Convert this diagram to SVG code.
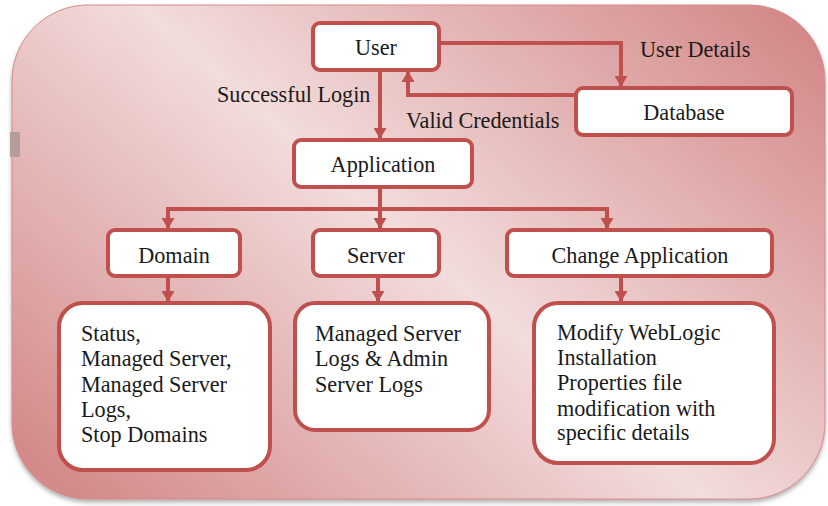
<svg xmlns="http://www.w3.org/2000/svg" width="828" height="506" viewBox="0 0 828 506">
  <defs>
    <linearGradient id="bg" gradientUnits="userSpaceOnUse" x1="150" y1="560" x2="690" y2="-60">
      <stop offset="0" stop-color="#d48a8a"/>
      <stop offset="0.5" stop-color="#f2dcdc"/>
      <stop offset="1" stop-color="#d48a8a"/>
    </linearGradient>
    <filter id="sh" x="-5%" y="-5%" width="110%" height="115%">
      <feDropShadow dx="0" dy="3" stdDeviation="2" flood-color="#555" flood-opacity="0.45"/>
    </filter>
    <marker id="ah" viewBox="0 0 11 13" refX="11" refY="6.5" markerWidth="11" markerHeight="13" markerUnits="userSpaceOnUse" orient="auto">
      <path d="M0,0 L11,6.5 L0,13 z" fill="#c0504d"/>
    </marker>
    <style>
      .box { fill: #ffffff; stroke: #c0504d; stroke-width: 4; }
      .lbl { font-size: 22.2px; fill: #1a1a1a; }
      .mid { text-anchor: middle; }
      .con { fill: none; stroke: #c0504d; stroke-width: 4; }
    </style>
  </defs>

  <rect x="12" y="5" width="813" height="494" rx="76" ry="76" fill="url(#bg)" stroke="#d98a8a" stroke-width="1" filter="url(#sh)"/>
  <rect x="10" y="132" width="10" height="25" fill="#b59d9d"/>

  <g font-family="'Liberation Serif', 'DejaVu Serif', serif">
  <g id="connectors">
    <path class="con" d="M380,70 V139" marker-end="url(#ah)"/>
    <path class="con" d="M576,95 H408 V71" marker-end="url(#ah)"/>
    <path class="con" d="M439,43 H621 V87" marker-end="url(#ah)"/>
    <path class="con" d="M380,187 V209"/>
    <path class="con" d="M168,209 H607"/>
    <path class="con" d="M168,207 V229" marker-end="url(#ah)"/>
    <path class="con" d="M380,209 V229" marker-end="url(#ah)"/>
    <path class="con" d="M607,207 V229" marker-end="url(#ah)"/>
    <path class="con" d="M168,276 V302" marker-end="url(#ah)"/>
    <path class="con" d="M378,276 V302" marker-end="url(#ah)"/>
    <path class="con" d="M621,276 V302" marker-end="url(#ah)"/>
    <text class="lbl" x="217" y="102">Successful Login</text>
    <text class="lbl" x="640" y="57">User Details</text>
    <text class="lbl" x="406" y="128">Valid Credentials</text>
  </g>

  <g id="user">
    <rect class="box" x="313" y="23" width="126" height="47" rx="7"/>
    <text class="lbl mid" x="376" y="55">User</text>
  </g>
  <g id="database">
    <rect class="box" x="576" y="88" width="216" height="47" rx="7"/>
    <text class="lbl mid" x="684" y="120">Database</text>
  </g>
  <g id="application">
    <rect class="box" x="294" y="140" width="178" height="47" rx="7"/>
    <text class="lbl mid" x="383" y="172">Application</text>
  </g>
  <g id="domain">
    <rect class="box" x="108" y="230" width="132" height="46" rx="7"/>
    <text class="lbl mid" x="174" y="263">Domain</text>
  </g>
  <g id="server">
    <rect class="box" x="313" y="230" width="126" height="46" rx="7"/>
    <text class="lbl mid" x="376" y="263">Server</text>
  </g>
  <g id="change-application">
    <rect class="box" x="507" y="230" width="265" height="46" rx="7"/>
    <text class="lbl mid" x="640" y="263">Change Application</text>
  </g>
  <g id="domain-details">
    <rect class="box" x="59" y="303" width="211" height="167" rx="24"/>
    <text class="lbl" x="81" y="341">Status,</text>
    <text class="lbl" x="81" y="366">Managed Server,</text>
    <text class="lbl" x="81" y="392">Managed Server</text>
    <text class="lbl" x="81" y="417">Logs,</text>
    <text class="lbl" x="81" y="442">Stop Domains</text>
  </g>
  <g id="server-details">
    <rect class="box" x="295" y="303" width="194" height="127" rx="20"/>
    <text class="lbl" x="315" y="341">Managed Server</text>
    <text class="lbl" x="315" y="366">Logs &amp; Admin</text>
    <text class="lbl" x="315" y="392">Server Logs</text>
  </g>
  <g id="change-details">
    <rect class="box" x="534" y="303" width="240" height="160" rx="24"/>
    <text class="lbl" x="557" y="340">Modify WebLogic</text>
    <text class="lbl" x="557" y="365">Installation</text>
    <text class="lbl" x="557" y="390">Properties file</text>
    <text class="lbl" x="557" y="416">modification with</text>
    <text class="lbl" x="557" y="440">specific details</text>
  </g>
  </g>
</svg>
